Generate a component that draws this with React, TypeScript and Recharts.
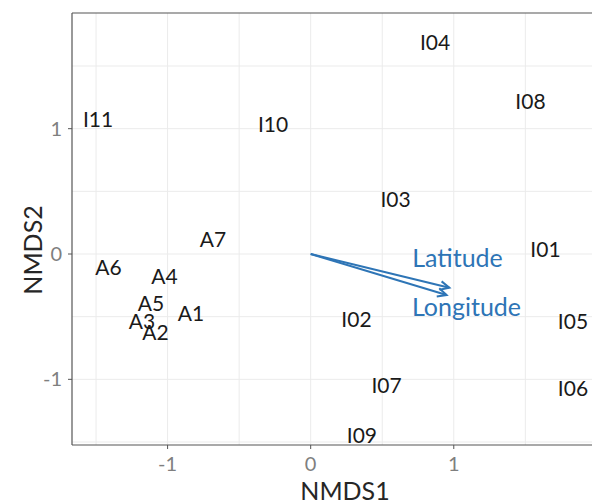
import React from 'react';
import { ScatterChart, Scatter, XAxis, YAxis, CartesianGrid, ReferenceLine, Label } from 'recharts';

const siteNames = ['I04', 'I08', 'I11', 'I10', 'I03', 'A7', 'I01', 'A6', 'A4', 'A5', 'A1', 'A3', 'A2', 'I02', 'I05', 'I07', 'I06', 'I09'];
const nmds1 = [0.869, 1.536, -1.486, -0.263, 0.593, -0.683, 1.641, -1.413, -1.022, -1.116, -0.836, -1.179, -1.085, 0.32, 1.833, 0.53, 1.833, 0.358];
const nmds2 = [1.688, 1.213, 1.073, 1.034, 0.431, 0.116, 0.036, -0.104, -0.18, -0.395, -0.475, -0.539, -0.623, -0.523, -0.539, -1.049, -1.077, -1.445];

const vectorNames = ['Latitude', 'Longitude'];
const vectorX = [0.969, 0.95];
const vectorY = [-0.269, -0.327];
const vectorLabelX = [1.026, 1.089];
const vectorLabelY = [-0.028, -0.423];

const xTicks = [-1, 0, 1];
const yTicks = [-1, 0, 1];
const xGrid = [-1.5, -1, -0.5, 0, 0.5, 1, 1.5];
const yGrid = [-1.5, -1, -0.5, 0, 0.5, 1, 1.5];

const X_MIN = -1.668;
const X_MAX = 1.966;
const Y_MIN = -1.524;
const Y_MAX = 1.923;

const FONT = 'Lato, "Open Sans", sans-serif';
const BLUE = '#2e75b6';
const AXIS = '#555555';

const siteData = siteNames.map((name, i) => ({ name, x: nmds1[i], y: nmds2[i] }));
const vectorLabelData = vectorNames.map((name, i) => ({ name, x: vectorLabelX[i], y: vectorLabelY[i] }));

const SiteLabel = (p: any) => (
  <text x={p.cx} y={p.cy + 7.5} textAnchor="middle" fontSize={21} fontFamily={FONT} fill="#1a1a1a">
    {p.payload.name}
  </text>
);

const VectorLabel = (p: any) => (
  <text x={p.cx} y={p.cy + 9} textAnchor="middle" fontSize={25} fontFamily={FONT} fill={BLUE}>
    {p.payload.name}
  </text>
);

const ArrowShape = (p: any) => {
  const { x1, y1, x2, y2 } = p;
  const ang = Math.atan2(y2 - y1, x2 - x1);
  const len = 10;
  const spread = Math.PI / 7;
  const ax = x2 - len * Math.cos(ang - spread);
  const ay = y2 - len * Math.sin(ang - spread);
  const bx = x2 - len * Math.cos(ang + spread);
  const by = y2 - len * Math.sin(ang + spread);
  return (
    <g>
      <line x1={x1} y1={y1} x2={x2} y2={y2} stroke={BLUE} strokeWidth={2} />
      <polyline points={`${ax},${ay} ${x2},${y2} ${bx},${by}`} fill="none" stroke={BLUE} strokeWidth={2} />
    </g>
  );
};

const YTitle = (props: any) => {
  const vb = props.viewBox || { x: 0, y: 0, width: 0, height: 0 };
  const cx = vb.x + 42;
  const cy = vb.y + vb.height / 2 + 21;
  return (
    <text x={cx} y={cy} transform={`rotate(-90 ${cx} ${cy})`} textAnchor="middle" fontSize={25} fontFamily={FONT} fill="#262626">
      NMDS2
    </text>
  );
};

export default function App() {
  return (
    <div style={{ position: 'absolute', left: 0, top: 0, width: 592, height: 504, overflow: 'hidden', background: '#fff' }}>
      <ScatterChart width={592} height={504} margin={{ top: 13, right: 0, bottom: 0, left: 0 }}>
        <CartesianGrid stroke="#ebebeb" strokeWidth={1} horizontalValues={yGrid} verticalValues={xGrid} />
        <XAxis
          type="number"
          dataKey="x"
          domain={[X_MIN, X_MAX]}
          ticks={xTicks}
          allowDataOverflow
          height={59}
          tickSize={4}
          tickMargin={8}
          tick={{ fill: '#7f7f7f', fontSize: 20, fontFamily: FONT }}
          tickLine={{ stroke: AXIS }}
          axisLine={{ stroke: AXIS, strokeWidth: 1.2 }}
        >
          <Label value="NMDS1" position="insideBottom" offset={4} dx={13} style={{ fontSize: 25, fontFamily: FONT, fill: '#262626' }} />
        </XAxis>
        <YAxis
          type="number"
          dataKey="y"
          domain={[Y_MIN, Y_MAX]}
          ticks={yTicks}
          allowDataOverflow
          width={72}
          tickSize={4}
          tickMargin={6}
          tick={{ fill: '#7f7f7f', fontSize: 20, fontFamily: FONT }}
          tickLine={{ stroke: AXIS }}
          axisLine={{ stroke: AXIS, strokeWidth: 1.2 }}
        >
          <Label content={YTitle} />
        </YAxis>
        <ReferenceLine y={Y_MAX} stroke={AXIS} strokeWidth={1.2} ifOverflow="visible" />
        {vectorNames.map((n, i) => (
          <ReferenceLine
            key={n}
            segment={[{ x: 0, y: 0 }, { x: vectorX[i], y: vectorY[i] }]}
            ifOverflow="visible"
            shape={ArrowShape}
          />
        ))}
        <Scatter data={siteData} shape={SiteLabel} isAnimationActive={false} />
        <Scatter data={vectorLabelData} shape={VectorLabel} isAnimationActive={false} />
      </ScatterChart>
    </div>
  );
}
